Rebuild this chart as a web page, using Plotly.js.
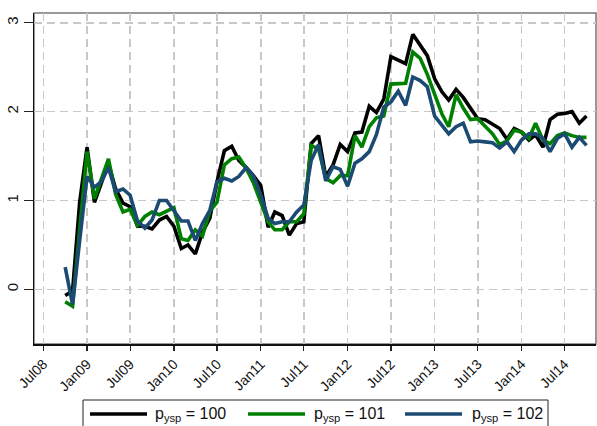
<!DOCTYPE html>
<html>
<head>
<meta charset="utf-8">
<script src="https://cdn.plot.ly/plotly-3.0.1.min.js"></script>
<style>
  html, body { margin: 0; padding: 0; background: #fff; }
  #chart { width: 597px; height: 426px; }
</style>
</head>
<body>
<div id="chart"></div>
<script>
// Monthly observations, Oct 2008 - Oct 2014
const months = [
  '2008-10-01','2008-11-01','2008-12-01',
  '2009-01-01','2009-02-01','2009-03-01','2009-04-01','2009-05-01','2009-06-01',
  '2009-07-01','2009-08-01','2009-09-01','2009-10-01','2009-11-01','2009-12-01',
  '2010-01-01','2010-02-01','2010-03-01','2010-04-01','2010-05-01','2010-06-01',
  '2010-07-01','2010-08-01','2010-09-01','2010-10-01','2010-11-01','2010-12-01',
  '2011-01-01','2011-02-01','2011-03-01','2011-04-01','2011-05-01','2011-06-01',
  '2011-07-01','2011-08-01','2011-09-01','2011-10-01','2011-11-01','2011-12-01',
  '2012-01-01','2012-02-01','2012-03-01','2012-04-01','2012-05-01','2012-06-01',
  '2012-07-01','2012-08-01','2012-09-01','2012-10-01','2012-11-01','2012-12-01',
  '2013-01-01','2013-02-01','2013-03-01','2013-04-01','2013-05-01','2013-06-01',
  '2013-07-01','2013-08-01','2013-09-01','2013-10-01','2013-11-01','2013-12-01',
  '2014-01-01','2014-02-01','2014-03-01','2014-04-01','2014-05-01','2014-06-01',
  '2014-07-01','2014-08-01','2014-09-01','2014-10-01'
];

const p100 = [
  -0.07, -0.02, 0.98, 1.60, 0.98, 1.18, 1.42, 1.13, 0.97, 0.93,
  0.71, 0.71, 0.68, 0.78, 0.82, 0.71, 0.46, 0.50, 0.40, 0.64, 0.80,
  1.21, 1.56, 1.61, 1.45, 1.37, 1.28, 1.17, 0.70, 0.87, 0.83, 0.61, 0.74,
  0.76, 1.64, 1.73, 1.27, 1.40, 1.63, 1.55, 1.76, 1.77, 2.06, 1.99, 2.14,
  2.62, 2.58, 2.54, 2.87, 2.75, 2.63, 2.37, 2.22, 2.13, 2.25, 2.16, 2.03,
  1.92, 1.91, 1.86, 1.81, 1.69, 1.81, 1.77, 1.68, 1.74, 1.60, 1.91, 1.97,
  1.98, 2.00, 1.87, 1.95
];

const p101 = [
  -0.14, -0.19, 0.68, 1.55, 1.02, 1.23, 1.47, 1.07, 0.87, 0.90,
  0.72, 0.82, 0.87, 0.84, 0.88, 0.92, 0.57, 0.55, 0.67, 0.60, 0.88,
  0.98, 1.40, 1.47, 1.49, 1.36, 1.20, 0.98, 0.76, 0.67, 0.67, 0.76, 0.76,
  0.85, 1.62, 1.58, 1.25, 1.20, 1.28, 1.28, 1.73, 1.60, 1.83, 1.93, 1.95,
  2.31, 2.31, 2.32, 2.67, 2.60, 2.42, 2.20, 1.97, 1.83, 2.19, 2.04, 1.91,
  1.92, 1.84, 1.75, 1.63, 1.67, 1.79, 1.77, 1.70, 1.87, 1.68, 1.64, 1.73,
  1.76, 1.73, 1.71, 1.71
];

const p102 = [
  0.25, -0.17, 0.55, 1.27, 1.15, 1.21, 1.37, 1.10, 1.13, 1.06,
  0.77, 0.69, 0.78, 1.00, 1.00, 0.88, 0.77, 0.77, 0.55, 0.74, 0.89,
  1.21, 1.25, 1.22, 1.27, 1.37, 1.28, 1.06, 0.80, 0.74, 0.76, 0.76, 0.87,
  0.95, 1.45, 1.63, 1.22, 1.38, 1.35, 1.16, 1.42, 1.47, 1.55, 1.74, 2.05,
  2.11, 2.23, 2.07, 2.39, 2.35, 2.28, 1.95, 1.84, 1.75, 1.83, 1.87, 1.66,
  1.67, 1.66, 1.65, 1.59, 1.66, 1.55, 1.68, 1.75, 1.75, 1.70, 1.55, 1.70,
  1.75, 1.60, 1.71, 1.62
];

const seriesNames = ['p<sub>ysp</sub> = 100', 'p<sub>ysp</sub> = 101', 'p<sub>ysp</sub> = 102'];
const seriesColors = ['#000000', '#008000', '#1b4a72'];

const tickDates = ['2008-07-01','2009-01-01','2009-07-01','2010-01-01','2010-07-01',
  '2011-01-01','2011-07-01','2012-01-01','2012-07-01','2013-01-01','2013-07-01',
  '2014-01-01','2014-07-01'];
const tickLabels = ['Jul08','Jan09','Jul09','Jan10','Jul10','Jan11','Jul11',
  'Jan12','Jul12','Jan13','Jul13','Jan14','Jul14'];
const yTicks = [0, 1, 2, 3];

// Plot-area box in page pixels; used to place the hand-drawn legend
const W = 597, H = 426;
const box = { l: 34, r: 596, t: 13, b: 344 };
const px = v => (v - box.l) / (box.r - box.l);
const py = v => (box.b - v) / (box.b - box.t);

const FONT = 'Arial, "Liberation Sans", Helvetica, sans-serif';
const seriesData = [p100, p101, p102];

const traces = seriesData.map((vals, i) => ({
  x: months,
  y: vals,
  type: 'scatter',
  mode: 'lines',
  name: seriesNames[i],
  line: { color: seriesColors[i], width: 3.6 },
  showlegend: false,
  hoverinfo: 'skip'
}));

// Legend: framed box with long line samples
const legendLines = [[90, 147], [248, 305], [405, 462]];
const legendText = [153, 312, 470];
const legendY = 414;

const shapes = [
  { type: 'rect', xref: 'paper', yref: 'paper', x0: 0, x1: 1, y0: 0, y1: 1,
    line: { color: '#777', width: 1.5 }, layer: 'below' },
  { type: 'rect', xref: 'paper', yref: 'paper',
    x0: px(83), x1: px(548), y0: py(400), y1: py(445),
    line: { color: '#222', width: 1 }, fillcolor: 'rgba(0,0,0,0)' }
];
const annotations = [];
legendLines.forEach((seg, i) => {
  shapes.push({ type: 'line', xref: 'paper', yref: 'paper',
    x0: px(seg[0]), x1: px(seg[1]), y0: py(legendY), y1: py(legendY),
    line: { color: seriesColors[i], width: 3.6 } });
  annotations.push({ xref: 'paper', yref: 'paper', x: px(legendText[i]), y: py(legendY),
    xanchor: 'left', yanchor: 'middle', showarrow: false, text: seriesNames[i],
    font: { family: FONT, size: 16, color: '#111' } });
});

const layout = {
  width: W, height: H,
  margin: { l: box.l, r: W - box.r, t: box.t, b: H - box.b, pad: 0 },
  paper_bgcolor: '#fff',
  plot_bgcolor: '#fff',
  font: { family: FONT, color: '#111' },
  showlegend: false,
  xaxis: {
    type: 'date',
    range: ['2008-05-23', '2014-11-10'],
    tickmode: 'array',
    tickvals: tickDates,
    ticktext: tickLabels,
    tickangle: -45,
    tickfont: { family: FONT, size: 14, color: '#111' },
    ticks: 'outside', ticklen: 5, tickwidth: 1.2, tickcolor: '#222',
    showline: true, linecolor: '#111', linewidth: 1.5,
    showgrid: true, gridcolor: '#c8c8c8', gridwidth: 1.5, griddash: '8px,5px',
    zeroline: false, fixedrange: true
  },
  yaxis: {
    range: [-0.615, 3.11],
    tickmode: 'array',
    tickvals: yTicks,
    ticktext: yTicks.map(String),
    tickangle: -90,
    tickfont: { family: FONT, size: 15, color: '#111' },
    ticks: 'outside', ticklen: 9, tickwidth: 1.2, tickcolor: '#222',
    showline: true, linecolor: '#111', linewidth: 1.5,
    showgrid: true, gridcolor: '#c8c8c8', gridwidth: 1.5, griddash: '8px,5px',
    zeroline: false, fixedrange: true
  },
  shapes: shapes,
  annotations: annotations
};

Plotly.newPlot('chart', traces, layout, { staticPlot: true, displayModeBar: false });
</script>
</body>
</html>
